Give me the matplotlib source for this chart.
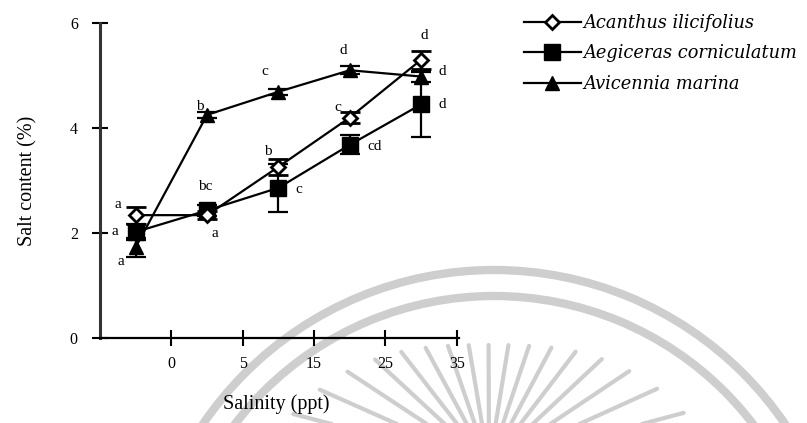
import numpy as np
import matplotlib
matplotlib.use("Agg")
import matplotlib.pyplot as plt
from matplotlib.patches import Arc
from matplotlib.lines import Line2D

plt.rcParams["font.family"] = ["Liberation Serif", "DejaVu Serif"]

# Salinity treatments (ppt) and salt content (%) per species
salinity = ["0", "5", "15", "25", "35"]

acanthus = [2.34, 2.34, 3.26, 4.20, 5.30]
acanthus_err = [0.16, 0.08, 0.15, 0.10, 0.17]
acanthus_sig = ["a", "a", "b", "c", "d"]

aegiceras = [2.02, 2.43, 2.86, 3.68, 4.45]
aegiceras_err = [0.15, 0.10, 0.46, 0.18, 0.62]
aegiceras_sig = ["a", "bc", "c", "cd", "d"]

avicennia = [1.73, 4.25, 4.69, 5.10, 4.98]
avicennia_err = [0.18, 0.05, 0.06, 0.08, 0.10]
avicennia_sig = ["a", "b", "c", "d", "d"]

species = ["Acanthus ilicifolius", "Aegiceras corniculatum", "Avicennia marina"]

W, H = 807, 423
fig = plt.figure(figsize=(W / 100, H / 100), dpi=100)

# faint logo watermark behind the plot
bg = fig.add_axes([0, 0, 1, 1], zorder=-5)
bg.set_xlim(0, W)
bg.set_ylim(H, 0)
bg.axis("off")
wm = "#cecece"
for r in (352, 326):
    bg.add_patch(Arc((494, 622), 2 * r, 2 * r, theta1=0, theta2=360,
                     color=wm, lw=6, zorder=0))
cx, cy = 489, 465
for ang in np.arange(15, 166, 9.4):
    t = np.deg2rad(ang)
    r_out = 120 + 110 * (1 - np.sin(t))
    bg.plot([cx + 40 * np.cos(t), cx + r_out * np.cos(t)],
            [cy - 40 * np.sin(t), cy - r_out * np.sin(t)],
            color=wm, lw=3.0, solid_capstyle="round", zorder=0)

ax = fig.add_axes([100 / W, 1 - 338 / H, 359 / W, 315 / H])
ax.patch.set_alpha(0)

x = np.arange(len(salinity)) + 0.5

styles = {
    species[0]: dict(marker="D", ms=7.5, mfc="white", mec="black", mew=2),
    species[1]: dict(marker="s", ms=12, mfc="black", mec="black"),
    species[2]: dict(marker="^", ms=10.5, mfc="black", mec="black"),
}

series = [
    (species[1], aegiceras, aegiceras_err, aegiceras_sig,
     [(-21, 0), (-2, 24), (20, -2), (25, -2), (21, 0)]),
    (species[2], avicennia, avicennia_err, avicennia_sig,
     [(-15, -14), (-7, 8), (-14, 20), (-7, 20), (21, 5)]),
    (species[0], acanthus, acanthus_err, acanthus_sig,
     [(-18, 11), (8, -18), (-11, 15), (-12, 10), (3, 24)]),
]

for lab, vals, err, sig, offs in series:
    ax.errorbar(x, vals, yerr=err, color="black", lw=1.6, capsize=7,
                capthick=1.6, elinewidth=1.6, **styles[lab])
    for xi, v, s, (dx, dy) in zip(x, vals, sig, offs):
        ax.annotate(s, (xi, v), xytext=(dx, dy), textcoords="offset pixels",
                    ha="center", va="center", fontsize=11)

ax.set_xlim(0, 5.03)
ax.set_ylim(0, 6)
ax.set_xticks(np.arange(1, 6))
ax.set_xticklabels(salinity)
ax.set_yticks([0, 2, 4, 6])
for side in ("top", "right"):
    ax.spines[side].set_visible(False)
ax.spines["left"].set_linewidth(2.2)
ax.spines["left"].set_color("#333333")
ax.spines["bottom"].set_linewidth(1.6)
ax.tick_params(axis="both", direction="inout", length=12, width=1.5, labelsize=11.5)
ax.tick_params(axis="y", pad=10)
ax.tick_params(axis="x", pad=7)

ax.set_ylabel("Salt content (%)", fontsize=14.5)
ax.set_xlabel("Salinity (ppt)", fontsize=14.5)
ax.yaxis.set_label_coords(-0.175, 0.5)
ax.xaxis.set_label_coords(0.49, -0.178)

handles = [Line2D([], [], color="black", lw=1.6, **styles[s]) for s in species]
fig.legend(handles, species, loc="upper left",
           bbox_to_anchor=(524 / W, 1 - 14 / H), frameon=False,
           prop=dict(family="DejaVu Serif", style="italic", size=12.8),
           handlelength=3.2, handletextpad=0.15, labelspacing=0.7,
           borderpad=0, borderaxespad=0)

fig.savefig("out.png", dpi=100)
